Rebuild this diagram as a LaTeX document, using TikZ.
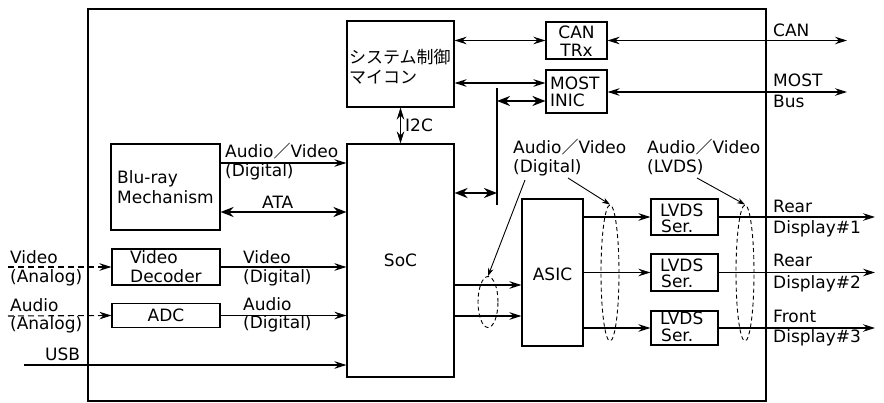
\documentclass[tikz,border=0pt]{standalone}
\usepackage{fontspec}
\setmainfont{DejaVu Sans}
\newfontfamily\jpfont{Noto Sans CJK JP}
\usetikzlibrary{arrows.meta,shapes.geometric}
\newcommand{\fsl}{{\jpfont ／}}
\begin{document}
\begin{tikzpicture}[x=1pt,y=-1pt,
  every node/.style={font=\fontsize{17}{20}\selectfont, inner sep=0pt},
  box/.style={draw, line width=1.1pt, inner sep=0pt},
  lbl/.style={anchor=base west},
  lblc/.style={anchor=base},
  ln/.style={line width=1.1pt},
  arr/.style={ln, -{Stealth[length=12pt,width=7.5pt]}},
  darr/.style={ln, {Stealth[length=12pt,width=7.5pt]}-{Stealth[length=12pt,width=7.5pt]}},
  tarr/.style={line width=2.5pt, {Stealth[length=13pt,width=10pt]}-{Stealth[length=13pt,width=10pt]}},
  ptr/.style={line width=0.9pt, -{Stealth[length=8pt,width=5.5pt]}},
  dsh/.style={ln, dash pattern=on 6pt off 4pt, -{Stealth[length=12pt,width=7.5pt]}},
  ell/.style={ellipse, draw, line width=0.9pt, dash pattern=on 4pt off 3pt, inner sep=0pt}
]
\useasboundingbox (0,0) rectangle (884,403);
\fill[white] (0,0) rectangle (884,403);

% boxes
\node[box, minimum width=678pt, minimum height=392pt] (outer) at (427,205) {};
\node[box, minimum width=107pt, minimum height=86pt] (sys) at (400.5,64) {};
\node[box, minimum width=61pt, minimum height=37pt] (can) at (576.5,40.5) {};
\node[box, minimum width=61pt, minimum height=43pt] (most) at (576.5,91.5) {};
\node[box, minimum width=107pt, minimum height=233pt] (soc) at (400.5,260.5) {};
\node[box, minimum width=109pt, minimum height=86pt] (blu) at (165.5,187) {};
\node[box, minimum width=108pt, minimum height=36pt] (vdec) at (166,267) {};
\node[box, minimum width=108pt, minimum height=24pt] (adc) at (166,315.5) {};
\node[box, minimum width=61pt, minimum height=147pt] (asic) at (552.5,272.5) {};
\node[box, minimum width=67pt, minimum height=36pt] (lv1) at (684.5,217) {};
\node[box, minimum width=67pt, minimum height=37pt] (lv2) at (684.5,272.5) {};
\node[box, minimum width=67pt, minimum height=34pt] (lv3) at (684.5,328) {};

% ellipses
\node[ell, minimum width=20pt, minimum height=51pt] (e1) at (488,302) {};
\node[ell, minimum width=18pt, minimum height=136pt] (e2) at (610,273) {};
\node[ell, minimum width=18pt, minimum height=136pt] (e3) at (745,273) {};

% box texts
\node[anchor=west] (t1) at (349,57) {\jpfont システム制御};
\node[anchor=west] (t2) at (349,77.5) {\jpfont マイコン};
\node[lblc] (t3) at (576.5,39) {CAN};
\node[lblc] (t4) at (576.5,57) {TRx};
\node[lbl] (t5) at (550,90) {MOST};
\node[lbl] (t6) at (550,107) {INIC};
\node[lbl] (t7) at (117,184) {Blu-ray};
\node[lbl] (t8) at (117,204) {Mechanism};
\node[lbl] (t9) at (130,264) {Video};
\node[lbl] (t10) at (130,283) {Decoder};
\node[lblc] (t11) at (166,322) {ADC};
\node[lblc] (t12) at (400.5,267) {SoC};
\node[lblc] (t13) at (552.5,281) {ASIC};
\node[lbl] (t14) at (660,217) {LVDS};
\node[lbl] (t15) at (661,233) {Ser.};
\node[lbl] (t16) at (660,272) {LVDS};
\node[lbl] (t17) at (661,288) {Ser.};
\node[lbl] (t18) at (660,325) {LVDS};
\node[lbl] (t19) at (661,342) {Ser.};

% labels
\node[lbl] (l1) at (405,132) {I2C};
\node[lbl] (l2) at (225,158) {Audio\fsl Video};
\node[lbl] (l3) at (225,177) {(Digital)};
\node[lbl] (l4) at (262,209) {ATA};
\node[lbl] (l5) at (243,264) {Video};
\node[lbl] (l6) at (243,283) {(Digital)};
\node[lbl] (l7) at (243,311) {Audio};
\node[lbl] (l8) at (243,329) {(Digital)};
\node[lbl] (l9) at (10,264) {Video};
\node[lbl] (l10) at (10,283) {(Analog)};
\node[lbl] (l11) at (10,312) {Audio};
\node[lbl] (l12) at (10,330) {(Analog)};
\node[lbl] (l13) at (45,361) {USB};
\node[lbl] (l14) at (513,154) {Audio\fsl Video};
\node[lbl] (l15) at (513,173) {(Digital)};
\node[lbl] (l16) at (647,154) {Audio\fsl Video};
\node[lbl] (l17) at (647,173) {(LVDS)};
\node[lbl] (l18) at (773,37) {CAN};
\node[lbl] (l19) at (773,87) {MOST};
\node[lbl] (l20) at (773,108) {Bus};
\node[lbl] (l21) at (773,213) {Rear};
\node[lbl] (l22) at (773,234) {Display\#1};
\node[lbl] (l23) at (773,267) {Rear};
\node[lbl] (l24) at (773,289) {Display\#2};
\node[lbl] (l25) at (773,323) {Front};
\node[lbl] (l26) at (773,343) {Display\#3};

% free-end coordinates
\coordinate (canout) at (847,40.5);
\coordinate (mostout) at (847,92);
\coordinate (bt) at (497,88);
\coordinate (bb) at (497,205);
\coordinate (vin) at (8,267);
\coordinate (ain) at (8,316);
\coordinate (usbin) at (24,365);
\coordinate (o1) at (875,217);
\coordinate (o2) at (875,272.5);
\coordinate (o3) at (875,328);
\coordinate (p1) at (525,180);
\coordinate (p2) at (568,178);
\coordinate (p3) at (697,178);

% connectors
\draw[darr] (sys.east |- can.west) -- (can.west);
\draw[darr] (can.east) -- (canout);
\draw[darr] (sys.east |- 0,83) -- (most.west |- 0,83);
\draw[darr] (most.east |- mostout) -- (mostout);
\draw[line width=2.5pt] (bt) -- (bb);
\draw[tarr] (bt |- 0,101) -- (most.west |- 0,101);
\draw[tarr] (soc.east |- 0,193) -- (bt |- 0,193);
\draw[darr] (sys.south) -- (soc.north);
\draw[arr] (blu.east |- 0,163) -- (soc.west |- 0,163);
\draw[tarr] (blu.east |- 0,212) -- (soc.west |- 0,212);
\draw[arr] (vdec.east) -- (soc.west |- vdec.east);
\draw[arr] (adc.east) -- (soc.west |- adc.east);
\draw[dsh] (vin) -- (vdec.west);
\draw[dsh] (ain) -- (adc.west);
\draw[arr] (usbin) -- (soc.west |- usbin);
\draw[arr] (soc.east |- 0,285) -- (asic.west |- 0,285);
\draw[arr] (soc.east |- 0,316) -- (asic.west |- 0,316);
\draw[arr] (asic.east |- lv1.west) -- (lv1.west);
\draw[arr] (asic.east |- lv2.west) -- (lv2.west);
\draw[arr] (asic.east |- lv3.west) -- (lv3.west);
\draw[arr] (lv1.east) -- (o1);
\draw[arr] (lv2.east) -- (o2);
\draw[arr] (lv3.east) -- (o3);
\draw[ptr] (p1) -- (e1.north);
\draw[ptr] (p2) -- (e2.north);
\draw[ptr] (p3) -- (e3.north);
\end{tikzpicture}
\end{document}
